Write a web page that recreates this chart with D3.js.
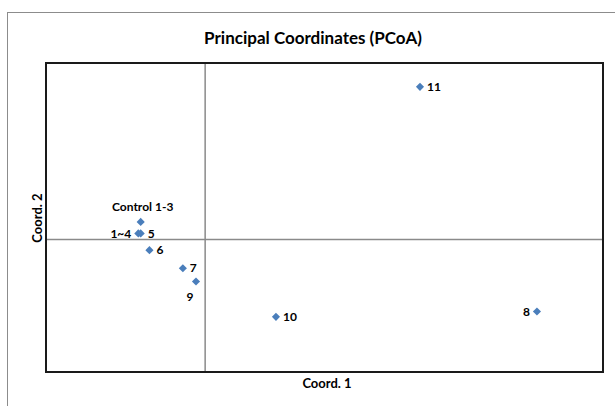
<!DOCTYPE html>
<html>
<head>
<meta charset="utf-8">
<script src="https://cdn.jsdelivr.net/npm/d3@7"></script>
<style>
  body { margin: 0; background: #fff; }
  text { font-family: Lato, "Open Sans", sans-serif; font-weight: bold; fill: #000; }
</style>
</head>
<body>
<div id="chart"></div>
<script>
// sample labels and PCoA coordinates
var labels = ["Control 1-3", "1~4", "5", "6", "7", "9", "10", "11", "8"];
var coord1 = [-0.081, -0.084, -0.081, -0.070, -0.028, -0.0115, 0.089, 0.270, 0.417];
var coord2 = [0.040, 0.014, 0.014, -0.024, -0.065, -0.095, -0.175, 0.346, -0.163];
// where each label sits relative to its marker
var labelPos = ["top", "left", "right", "right", "right", "bottom", "right", "right", "left"];

var xDomain = [-0.2, 0.5];
var yDomain = [-0.3, 0.4];

var width = 615, height = 406;
var plot = { left: 46, right: 603, top: 63, bottom: 372 };

var svg = d3.select("#chart").append("svg")
	.attr("width", width)
	.attr("height", height);

// outer chart frame (runs off the right and bottom edges)
svg.append("rect")
	.attr("x", 7.5).attr("y", 12.5)
	.attr("width", width + 10).attr("height", height + 10)
	.attr("fill", "none")
	.attr("stroke", "#8c8c8c")
	.attr("stroke-width", 1);

var x = d3.scaleLinear().domain(xDomain).range([plot.left, plot.right]);
var y = d3.scaleLinear().domain(yDomain).range([plot.bottom, plot.top]);

// zero lines
svg.append("line")
	.attr("x1", plot.left).attr("x2", plot.right)
	.attr("y1", y(0)).attr("y2", y(0))
	.attr("stroke", "#8a8a8a").attr("stroke-width", 1.5);
svg.append("line")
	.attr("x1", x(0)).attr("x2", x(0))
	.attr("y1", plot.top).attr("y2", plot.bottom)
	.attr("stroke", "#8a8a8a").attr("stroke-width", 1.5);

// plot area border
svg.append("rect")
	.attr("x", plot.left).attr("y", plot.top)
	.attr("width", plot.right - plot.left)
	.attr("height", plot.bottom - plot.top)
	.attr("fill", "none")
	.attr("stroke", "#1a1a1a")
	.attr("stroke-width", 2);

var points = labels.map(function(l, i) {
	return { label: l, c1: coord1[i], c2: coord2[i], pos: labelPos[i] };
});

var diamond = d3.symbol().type(d3.symbolDiamond2).size(42);

svg.append("g").selectAll("path")
	.data(points)
	.enter().append("path")
	.attr("d", diamond)
	.attr("transform", function(d) { return "translate(" + x(d.c1) + "," + y(d.c2) + ")"; })
	.attr("fill", "#4a7ebb");

svg.append("g").selectAll("text")
	.data(points)
	.enter().append("text")
	.attr("font-size", 12)
	.attr("x", function(d) {
		if (d.pos === "right") return x(d.c1) + 7;
		if (d.pos === "left") return x(d.c1) - 7;
		if (d.pos === "bottom") return x(d.c1) - 6;
		return x(d.c1) + 2;
	})
	.attr("y", function(d) {
		if (d.pos === "top") return y(d.c2) - 15;
		if (d.pos === "bottom") return y(d.c2) + 15;
		return y(d.c2);
	})
	.attr("dy", "0.35em")
	.attr("text-anchor", function(d) {
		if (d.pos === "left") return "end";
		if (d.pos === "right") return "start";
		return "middle";
	})
	.text(function(d) { return d.label; });

// titles
svg.append("text")
	.attr("x", 313).attr("y", 38)
	.attr("dy", "0.35em")
	.attr("text-anchor", "middle")
	.attr("font-size", 17)
	.text("Principal Coordinates (PCoA)");

svg.append("text")
	.attr("x", 327).attr("y", 383)
	.attr("dy", "0.35em")
	.attr("text-anchor", "middle")
	.attr("font-size", 13)
	.text("Coord. 1");

svg.append("text")
	.attr("transform", "translate(37,218) rotate(-90)")
	.attr("dy", "0.35em")
	.attr("text-anchor", "middle")
	.attr("font-size", 13)
	.text("Coord. 2");
</script>
</body>
</html>
